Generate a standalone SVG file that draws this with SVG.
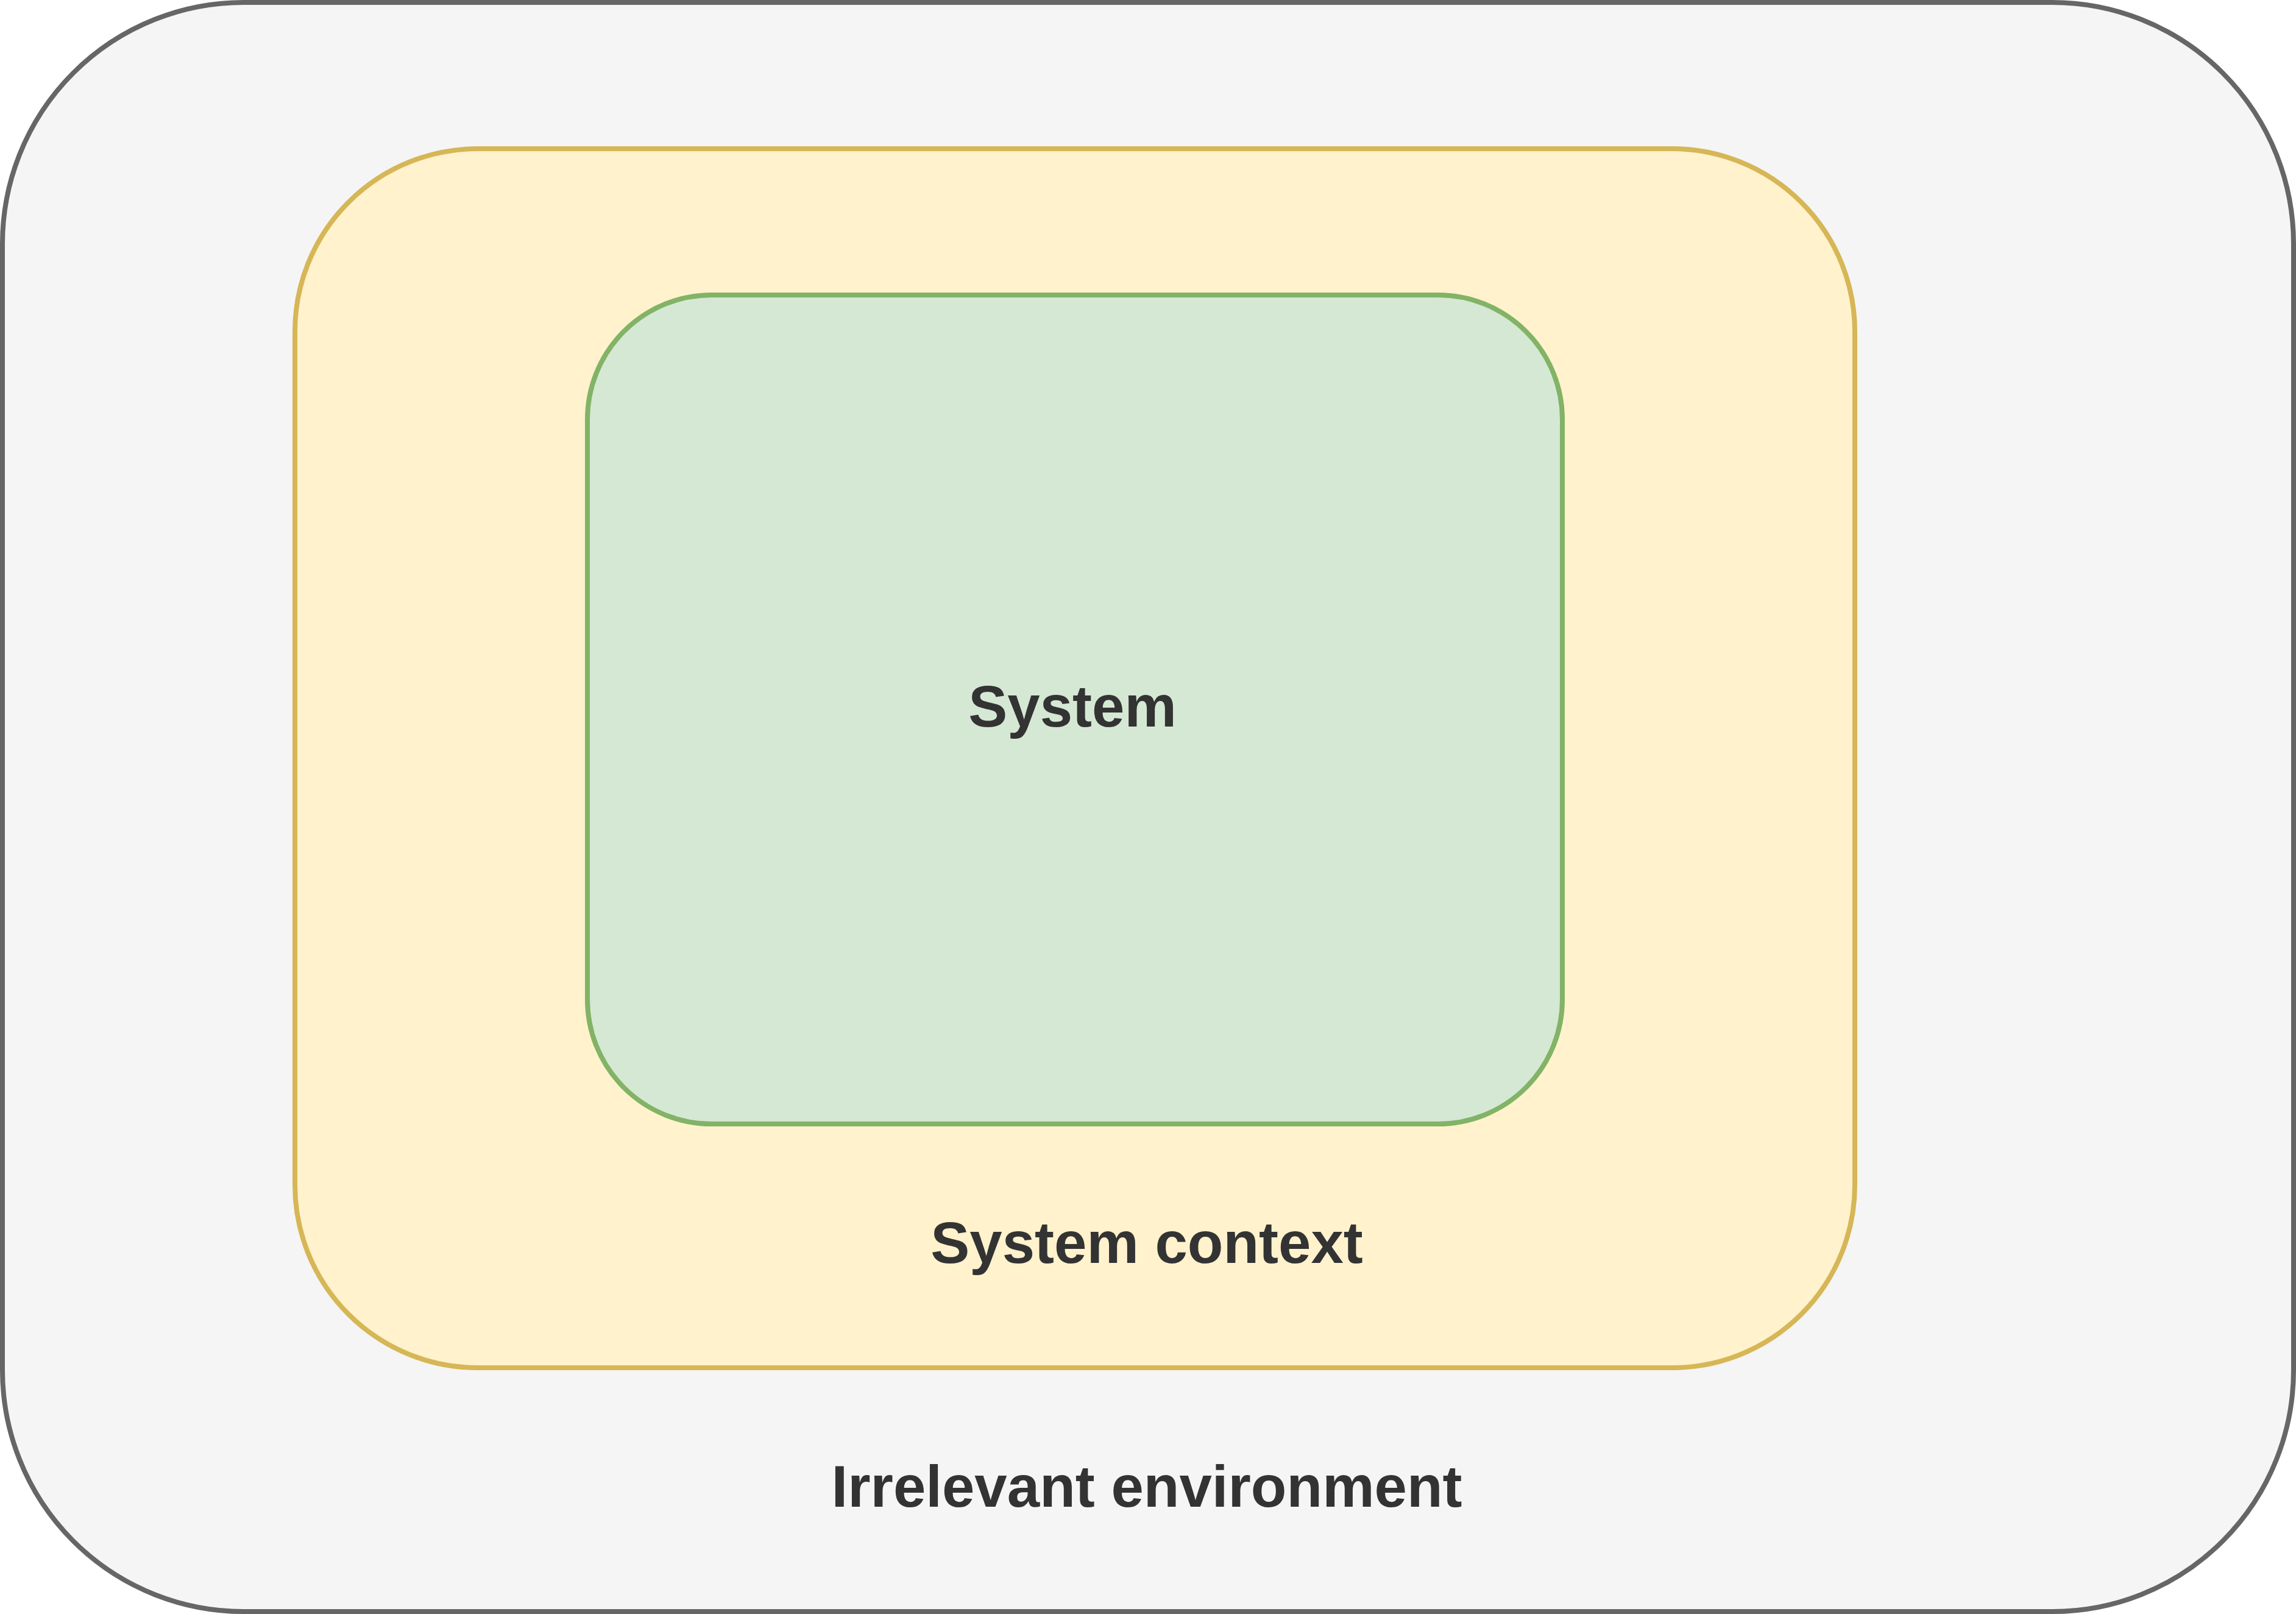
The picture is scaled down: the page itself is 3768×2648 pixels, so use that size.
<svg xmlns="http://www.w3.org/2000/svg" width="3768" height="2648" viewBox="0 0 3768 2648">
  <style>
    .lbl { font-family: "Liberation Sans", Arial, sans-serif; font-weight: bold; font-size: 96px; fill: #333333; text-anchor: middle; }
    .box { stroke-width: 8; }
  </style>
  <rect width="3768" height="2648" fill="#ffffff"/>
  <g id="irrelevant-environment">
    <rect class="box" x="4" y="4" width="3760" height="2640" rx="396" ry="396" fill="#f5f5f5" stroke="#666666"/>
    <text class="lbl" x="1882" y="2472">Irrelevant environment</text>
  </g>
  <g id="system-context">
    <rect class="box" x="484" y="244" width="2560" height="2000" rx="300" ry="300" fill="#fff2cc" stroke="#d6b656"/>
    <text class="lbl" x="1882" y="2072">System context</text>
  </g>
  <g id="system">
    <rect class="box" x="964" y="484" width="1600" height="1360" rx="204" ry="204" fill="#d5e8d4" stroke="#82b366"/>
    <text class="lbl" x="1760" y="1192">System</text>
  </g>
  <g id="connectors"/>
</svg>
